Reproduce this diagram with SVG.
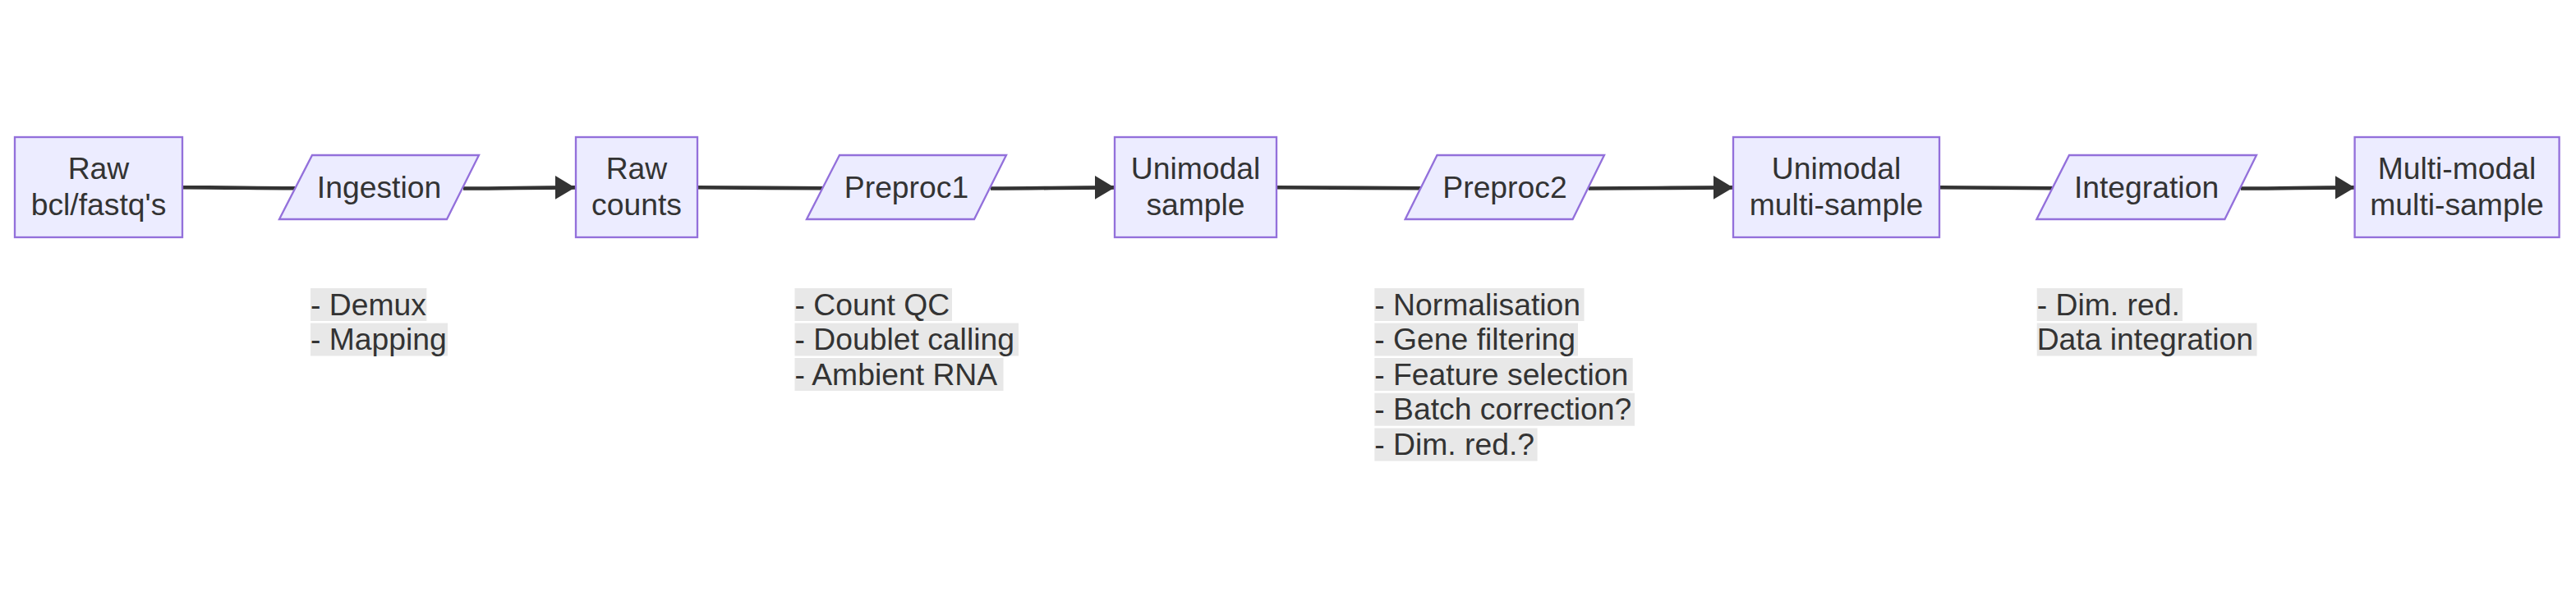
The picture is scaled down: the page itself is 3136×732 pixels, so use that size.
<svg xmlns="http://www.w3.org/2000/svg" width="3136" height="732" viewBox="0 0 3136 732">
<style>
.n{fill:#ECECFF;stroke:#9370DB;stroke-width:2.33}
.t{font-family:"Liberation Sans",Arial,sans-serif;font-size:37.3px;fill:#333;text-anchor:middle}
.a{font-family:"Liberation Sans",Arial,sans-serif;font-size:37.3px;fill:#333}
.bg{fill:#e8e8e8}
.e{fill:none;stroke:#333;stroke-width:4.6}
</style>
<defs>
<marker id="arr" markerUnits="userSpaceOnUse" markerWidth="30" markerHeight="32" refX="24" refY="14.4" orient="auto">
<path d="M0,0 L24,14.4 L0,28.8 z" fill="#333"/>
</marker>
</defs>
<rect width="3136" height="732" fill="#fff"/>
<g id="edges">
<path class="e" d="M222,228.3 C290,228.3 300,229.3 360,229.3"/>
<path class="e" d="M564,229.5 C620,229.5 640,228.4 700,228.4" marker-end="url(#arr)"/>
<path class="e" d="M849,228.3 C920,228.3 940,229.3 1002,229.3"/>
<path class="e" d="M1206,229.5 C1270,229.5 1290,228.4 1357,228.4" marker-end="url(#arr)"/>
<path class="e" d="M1554,228.3 C1640,228.3 1660,229.3 1730,229.3"/>
<path class="e" d="M1934,229.5 C2010,229.5 2030,228.4 2110,228.4" marker-end="url(#arr)"/>
<path class="e" d="M2361,228.3 C2420,228.3 2440,229.3 2499,229.3"/>
<path class="e" d="M2728,229.5 C2790,229.5 2800,228.4 2866.6,228.4" marker-end="url(#arr)"/>
</g>
<g id="raw">
<rect class="n" x="18" y="167" width="204" height="122"/>
<text class="t" x="120" y="218">Raw</text>
<text class="t" x="120" y="261.5">bcl/fastq's</text>
</g>
<g id="ingestion">
<polygon class="n" points="380,189 583,189 544,267 340,267"/>
<text class="t" x="461.5" y="240.5">Ingestion</text>
</g>
<g id="rawcounts">
<rect class="n" x="701" y="167" width="148" height="122"/>
<text class="t" x="775" y="218">Raw</text>
<text class="t" x="775" y="261.5">counts</text>
</g>
<g id="preproc1">
<polygon class="n" points="1022,189 1225,189 1186,267 982,267"/>
<text class="t" x="1103.5" y="240.5">Preproc1</text>
</g>
<g id="unimodal">
<rect class="n" x="1357" y="167" width="197" height="122"/>
<text class="t" x="1455.5" y="218">Unimodal</text>
<text class="t" x="1455.5" y="261.5">sample</text>
</g>
<g id="preproc2">
<polygon class="n" points="1749.5,189 1953,189 1914.6,267 1710.7,267"/>
<text class="t" x="1832" y="240.5">Preproc2</text>
</g>
<g id="unimodalmulti">
<rect class="n" x="2110" y="167" width="251" height="122"/>
<text class="t" x="2235.5" y="218">Unimodal</text>
<text class="t" x="2235.5" y="261.5">multi-sample</text>
</g>
<g id="integration">
<polygon class="n" points="2519,189 2747,189 2708.4,267 2479.4,267"/>
<text class="t" x="2613" y="240.5">Integration</text>
</g>
<g id="multimodal">
<rect class="n" x="2866.6" y="167" width="249" height="122"/>
<text class="t" x="2991" y="218">Multi-modal</text>
<text class="t" x="2991" y="261.5">multi-sample</text>
</g>
<g id="note-ingestion">
<rect class="bg" x="378" y="351" width="141.4" height="40"/>
<rect class="bg" x="378" y="393.5" width="167" height="40"/>
<text class="a" x="378" y="383.5">- Demux</text>
<text class="a" x="378" y="426">- Mapping</text>
</g>
<g id="note-preproc1">
<rect class="bg" x="967.5" y="351" width="191.5" height="40"/>
<rect class="bg" x="967.5" y="393.5" width="272.5" height="40"/>
<rect class="bg" x="967.5" y="436" width="254" height="40"/>
<text class="a" x="967.5" y="383.5">- Count QC</text>
<text class="a" x="967.5" y="426">- Doublet calling</text>
<text class="a" x="967.5" y="468.5">- Ambient RNA</text>
</g>
<g id="note-preproc2">
<rect class="bg" x="1673.3" y="351" width="255.2" height="40"/>
<rect class="bg" x="1673.3" y="393.5" width="247.7" height="40"/>
<rect class="bg" x="1673.3" y="436" width="314.4" height="40"/>
<rect class="bg" x="1673.3" y="478.7" width="316.7" height="40"/>
<rect class="bg" x="1673.3" y="521.5" width="198.3" height="40"/>
<text class="a" x="1673.3" y="383.5">- Normalisation</text>
<text class="a" x="1673.3" y="426">- Gene filtering</text>
<text class="a" x="1673.3" y="468.5">- Feature selection</text>
<text class="a" x="1673.3" y="511.2">- Batch correction?</text>
<text class="a" x="1673.3" y="554">- Dim. red.?</text>
</g>
<g id="note-integration">
<rect class="bg" x="2479.7" y="351" width="177.3" height="40"/>
<rect class="bg" x="2479.7" y="393.5" width="267.8" height="40"/>
<text class="a" x="2479.7" y="383.5">- Dim. red.</text>
<text class="a" x="2479.7" y="426">Data integration</text>
</g>
</svg>
